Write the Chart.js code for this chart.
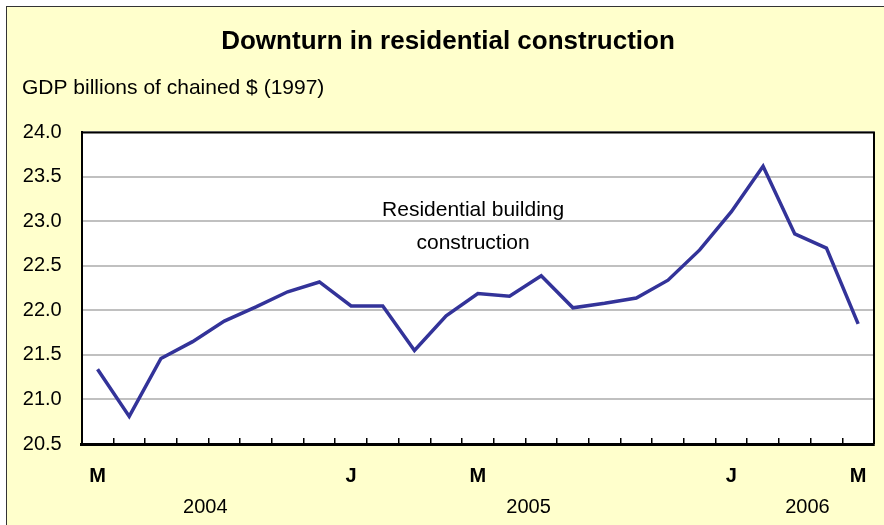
<!DOCTYPE html>
<html>
<head>
<meta charset="utf-8">
<script src="https://cdn.jsdelivr.net/npm/chart.js@4.4.1/dist/chart.umd.min.js"></script>
<style>
  html, body { margin: 0; padding: 0; width: 884px; height: 525px; overflow: hidden; background: #ffffff; }
  #frame { position: absolute; left: 6px; top: 6px; width: 900px; height: 540px; background: #FFFFCC; border-left: 1.5px solid #333; border-top: 1.5px solid #333; }
  #c { position: absolute; left: 0; top: 0; }
</style>
</head>
<body>
<div id="frame"></div>
<canvas id="c" width="884" height="525"></canvas>
<script>
// ---- data ----
const categories = ['2004-05','2004-06','2004-07','2004-08','2004-09','2004-10','2004-11','2004-12',
  '2005-01','2005-02','2005-03','2005-04','2005-05','2005-06','2005-07','2005-08','2005-09','2005-10','2005-11','2005-12',
  '2006-01','2006-02','2006-03','2006-04','2006-05'];
const tickLabels = ['M','','','','','','','','J','','','','M','','','','','','','','J','','','','M'];
const values = [21.34, 20.81, 21.46, 21.65, 21.88, 22.04, 22.21, 22.32, 22.05, 22.05, 21.55, 21.94, 22.19,
  22.16, 22.39, 22.03, 22.08, 22.14, 22.34, 22.68, 23.11, 23.62, 22.86, 22.70, 21.85];
const yearLabels = ['2004', '2005', '2006'];
// year label positions on the category axis (in category-index units)
const yearPositions = [3.4, 13.6, 22.4];
const seriesName = 'Residential building construction';
const annotationLines = ['Residential building', 'construction'];

const FONT = '"Liberation Sans", Arial, sans-serif';
Chart.defaults.font.family = FONT;
Chart.defaults.color = '#000';

const plotBg = {
  id: 'plotBg',
  beforeDraw(chart) {
    const a = chart.chartArea, ctx = chart.ctx;
    ctx.save();
    ctx.fillStyle = '#ffffff';
    ctx.fillRect(a.left, a.top, a.right - a.left, a.bottom - a.top);
    ctx.restore();
  },
  afterDraw(chart) {
    const a = chart.chartArea, ctx = chart.ctx;
    ctx.save();
    ctx.strokeStyle = '#000';
    ctx.lineWidth = 2;
    ctx.beginPath();
    ctx.moveTo(a.left, a.top);
    ctx.lineTo(a.right, a.top);
    ctx.lineTo(a.right, a.bottom);
    ctx.stroke();
    ctx.restore();
  }
};

const annot = {
  id: 'annot',
  afterDatasetsDraw(chart, args, opts) {
    const ctx = chart.ctx;
    const x = chart.scales.x.getPixelForValue(opts.at[0]);
    const y = chart.scales.y.getPixelForValue(opts.at[1]);
    ctx.save();
    ctx.font = '21px ' + FONT;
    ctx.fillStyle = '#000';
    ctx.textAlign = 'center';
    ctx.textBaseline = 'middle';
    annotationLines.forEach((t, i) => ctx.fillText(t, x, y + i * opts.lineGap));
    ctx.restore();
  }
};

const noSidePad = s => { s.paddingLeft = 0; s.paddingRight = 0; };

new Chart(document.getElementById('c'), {
  type: 'line',
  data: {
    labels: categories,
    datasets: [{
      label: seriesName,
      data: values,
      borderColor: '#333399',
      borderWidth: 3.5,
      pointRadius: 0,
      tension: 0,
      fill: false
    }]
  },
  options: {
    responsive: false,
    animation: false,
    layout: { padding: { left: 22, right: 10, top: 0, bottom: 0 } },
    plugins: {
      legend: { display: false },
      tooltip: { enabled: false },
      title: {
        display: true,
        text: 'Downturn in residential construction',
        font: { size: 26, weight: 'bold' },
        color: '#000',
        padding: { top: 26, bottom: 0 }
      },
      subtitle: {
        display: true,
        text: 'GDP billions of chained $ (1997)',
        align: 'start',
        font: { size: 21 },
        color: '#000',
        padding: { top: 18, bottom: 32 }
      },
      annot: { at: [11.85, 23.13], lineGap: 33 }
    },
    scales: {
      x: {
        type: 'category',
        position: 'bottom',
        offset: true,
        grid: { offset: true, drawOnChartArea: false, drawTicks: true, tickLength: -6, color: '#000', lineWidth: 1.5 },
        border: { display: true, color: '#000', width: 3 },
        ticks: {
          autoSkip: false, maxRotation: 0, padding: 26,
          font: { size: 20, weight: 'bold' }, color: '#000',
          callback: (v, i) => tickLabels[i]
        },
        afterFit: s => { s.height = 44; noSidePad(s); }
      },
      x2: {
        type: 'linear',
        position: 'bottom',
        min: -0.5,
        max: 24.5,
        grid: { display: false, drawTicks: false },
        border: { display: false },
        afterBuildTicks: s => { s.ticks = yearPositions.map(v => ({ value: v })); },
        ticks: {
          autoSkip: false, maxRotation: 0, padding: 7,
          font: { size: 20 }, color: '#000',
          callback: (v, i) => yearLabels[i]
        },
        afterFit: s => { s.height = 37; noSidePad(s); }
      },
      y: {
        min: 20.5,
        max: 24.0,
        grid: { color: '#C0C0C0', lineWidth: 2, drawTicks: false },
        border: { display: true, color: '#000', width: 2 },
        ticks: {
          stepSize: 0.5, padding: 20,
          font: { size: 20 }, color: '#000',
          callback: v => Number(v).toFixed(1)
        },
        afterFit: s => { s.width = 59.7; }
      }
    }
  },
  plugins: [plotBg, annot]
});
</script>
</body>
</html>
